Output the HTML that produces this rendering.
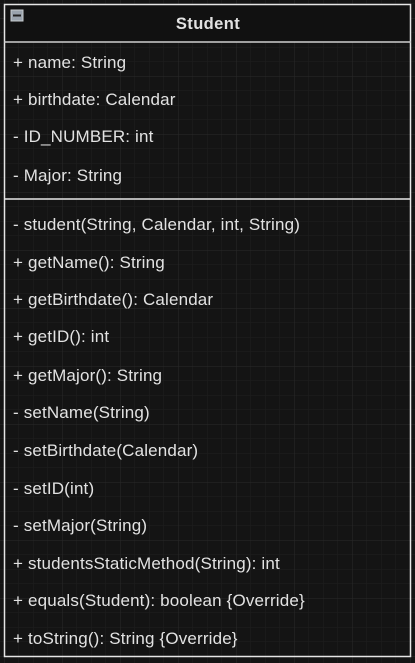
<!DOCTYPE html>
<html><head><meta charset="utf-8"><style>
html,body{margin:0;padding:0;background:#141414;width:415px;height:663px;overflow:hidden}
svg{display:block}
text{font-family:"Liberation Sans",sans-serif;font-size:17px;letter-spacing:0.16px;fill:#e2e2e2}
</style></head><body>
<svg width="415" height="663" viewBox="0 0 415 663">
<defs>
<pattern id="minor" x="4" y="18" width="14.5" height="14.5" patternUnits="userSpaceOnUse">
<path d="M0 0H14.5M0 0V14.5" stroke="#1f1f1f" stroke-width="1" fill="none"/>
</pattern>
<pattern id="major" x="4" y="18" width="58" height="58" patternUnits="userSpaceOnUse">
<path d="M0 0H58M0 0V58" stroke="#2a2a2a" stroke-width="1" fill="none"/>
</pattern>
</defs>
<rect width="415" height="663" fill="#141414"/>
<rect width="415" height="663" fill="url(#minor)"/>
<rect width="415" height="663" fill="url(#major)"/>
<rect x="4.5" y="4.5" width="406" height="38" fill="#111"/>
<rect x="4.5" y="4.5" width="406" height="652" fill="none" stroke="#e6e6e6" stroke-width="1.5"/>
<line x1="4" y1="42" x2="411" y2="42" stroke="#cfcfcf" stroke-width="1.5"/>
<line x1="4" y1="199" x2="411" y2="199" stroke="#e6e6e6" stroke-width="1.5"/>
<rect x="11" y="10" width="12" height="11" fill="#9aa3ad" stroke="#c8ccd0"/>
<rect x="13" y="14.5" width="8" height="2" fill="#222"/>
<text x="208" y="29" text-anchor="middle" style="font-weight:bold;font-size:16.5px;letter-spacing:0.4px">Student</text>
<text x="13" y="68">+ name: String</text>
<text x="13" y="105">+ birthdate: Calendar</text>
<text x="13" y="142">- ID_NUMBER: int</text>
<text x="13" y="181">- Major: String</text>
<text x="13" y="230">- student(String, Calendar, int, String)</text>
<text x="13" y="268">+ getName(): String</text>
<text x="13" y="305">+ getBirthdate(): Calendar</text>
<text x="13" y="342">+ getID(): int</text>
<text x="13" y="381">+ getMajor(): String</text>
<text x="13" y="418">- setName(String)</text>
<text x="13" y="456">- setBirthdate(Calendar)</text>
<text x="13" y="494">- setID(int)</text>
<text x="13" y="531">- setMajor(String)</text>
<text x="13" y="569">+ studentsStaticMethod(String): int</text>
<text x="13" y="606">+ equals(Student): boolean {Override}</text>
<text x="13" y="644">+ toString(): String {Override}</text>
</svg>
</body></html>
